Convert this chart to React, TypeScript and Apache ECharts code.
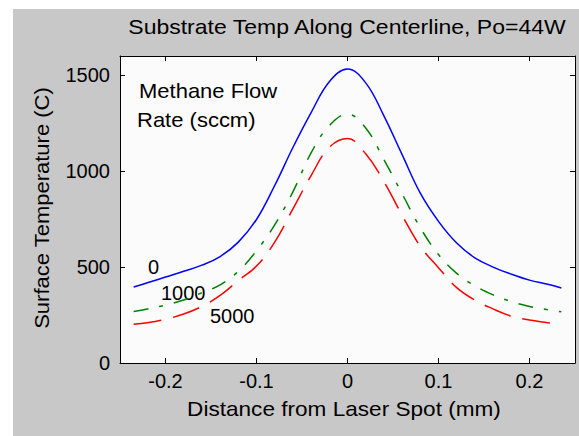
import React, { useEffect, useRef } from "react";
import * as echarts from "echarts";

const distance = [-0.235, -0.22, -0.2, -0.18, -0.16, -0.14, -0.12, -0.1, -0.08, -0.06, -0.04, -0.02, 0,
  0.02, 0.04, 0.06, 0.08, 0.1, 0.12, 0.14, 0.16, 0.18, 0.2, 0.22, 0.235];
const flow0 = [396, 418, 448, 478, 510, 555, 630, 748, 925, 1123, 1305, 1466, 1532,
  1460, 1288, 1086, 885, 738, 625, 548, 500, 463, 432, 410, 391];
const flow1000 = [268, 281, 302, 328, 366, 407, 478, 585, 720, 892, 1095, 1237, 1297,
  1225, 1060, 882, 705, 565, 467, 402, 355, 320, 294, 278, 267];
const flow5000 = [202, 210, 228, 255, 295, 352, 430, 505, 630, 803, 977, 1124, 1170,
  1090, 946, 770, 608, 497, 393, 328, 282, 244, 224, 210, 199];
const xTicks = [-0.2, -0.1, 0, 0.1, 0.2];
const yTicks = [0, 500, 1000, 1500];

const FONT = "Liberation Sans";

function pairs(ys: number[]) {
  return distance.map((x, i) => [x, ys[i]]);
}

export default function App() {
  const ref = useRef<HTMLDivElement>(null);
  useEffect(() => {
    if (!ref.current) return;
    const chart = echarts.init(ref.current, undefined, { renderer: "svg" });
    const axisCommon = {
      axisLine: { show: true, onZero: false, lineStyle: { color: "#000", width: 1 } },
      axisTick: { show: true, inside: true, length: 5, lineStyle: { color: "#000" } },
      splitLine: { show: false },
    };
    const xFmt = (v: number) => {
      const r = Math.round(v * 10) / 10;
      return r === 0 ? "0" : r.toFixed(1);
    };
    const txt = (text: string, x: number, y: number, align: string, sx: number, extra: any = {}) => ({
      type: "text", x, y, scaleX: sx, ...extra,
      style: { text, font: `20px "${FONT}"`, fill: "#000", align, verticalAlign: "middle" },
    });
    chart.setOption({
      animation: false,
      backgroundColor: "#c8c8c8",
      grid: {
        left: 107, top: 47, right: 4, bottom: 73,
        show: true, backgroundColor: "#fbfbfb", borderWidth: 0,
      },
      xAxis: [
        {
          type: "value", min: -0.25, max: 0.25, position: "bottom",
          ...axisCommon,
          axisTick: { ...axisCommon.axisTick, customValues: xTicks },
          axisLabel: {
            customValues: xTicks, formatter: xFmt, color: "#000",
            fontFamily: FONT, fontSize: 20, margin: 8,
          },
        },
        {
          type: "value", min: -0.25, max: 0.25, position: "top",
          ...axisCommon,
          axisTick: { ...axisCommon.axisTick, customValues: xTicks },
          axisLabel: { show: false },
        },
      ],
      yAxis: [
        {
          type: "value", min: 0, max: 1600, position: "left",
          ...axisCommon,
          axisTick: { ...axisCommon.axisTick, customValues: yTicks },
          axisLabel: {
            customValues: yTicks, formatter: (v: number) => String(Math.round(v)),
            color: "#000", fontFamily: FONT, fontSize: 20, margin: 10,
          },
        },
        {
          type: "value", min: 0, max: 1600, position: "right",
          ...axisCommon,
          axisTick: { ...axisCommon.axisTick, customValues: yTicks },
          axisLabel: { show: false },
        },
      ],
      series: [
        {
          type: "line", data: pairs(flow0), smooth: 0.4, showSymbol: false,
          lineStyle: { color: "#0000ff", width: 1.5 },
        },
        {
          type: "line", data: pairs(flow1000), smooth: 0.4, showSymbol: false,
          lineStyle: { color: "#008000", width: 1.5, type: [15, 11, 4, 11] },
        },
        {
          type: "line", data: pairs(flow5000), smooth: 0.4, showSymbol: false,
          lineStyle: { color: "#ff0000", width: 1.5, type: [28, 12] },
        },
      ],
      graphic: [
        txt("Substrate Temp Along Centerline, Po=44W", 334, 18, "center", 1.15),
        txt("Distance from Laser Spot (mm)", 331, 400, "center", 1.13),
        txt("Surface Temperature (C)", 29, 199, "center", 1.1, { rotation: Math.PI / 2 }),
        txt("Methane Flow", 126, 82, "left", 1.1),
        txt("Rate (sccm)", 124, 111, "left", 1.1),
        txt("0", 135, 258, "left", 1),
        txt("1000", 148, 284, "left", 1),
        txt("5000", 197, 307, "left", 1),
      ],
    });
    return () => chart.dispose();
  }, []);
  return (
    <div
      ref={ref}
      style={{ position: "absolute", left: 13, top: 9, width: 566, height: 427 }}
    />
  );
}
